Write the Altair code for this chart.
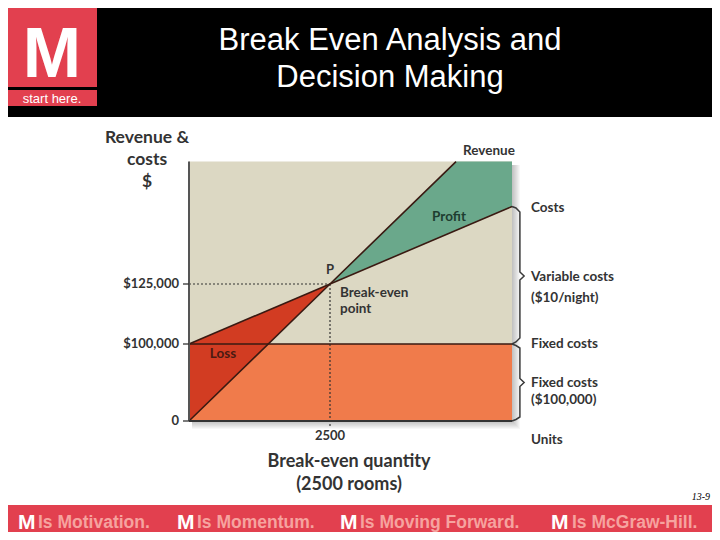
import altair as alt
import pandas as pd

# ---------------- data ----------------
q_breakeven = 2500          # rooms
be_value = 125000           # $ at break-even
fixed_costs = 100000        # $
q_edge = 5727               # right edge of the drawn quantity axis (rooms)
y_top = 176000              # top edge of the drawn $ axis

revenue_q = [0, 2500, 4734]
revenue_usd = [0, 125000, 176000]
costs_q = [0, 5727]
costs_usd = [100000, 157270]
fixed_q = [0, 5727]
fixed_usd = [100000, 100000]

loss_q = [0, 2500]
loss_hi = [100000, 125000]
loss_lo = [0, 125000]

profit_q = [2500, 4734, 5727]
profit_hi = [125000, 176000, 176000]
profit_lo = [125000, 147340, 157270]

ytick_values = [0, 100000, 125000]
ytick_labels = ["0", "$100,000", "$125,000"]
xtick_values = [2500]
xtick_labels = ["2500"]

brace1_q = [5727, 5797, 5867, 5867, 5942, 5867, 5867, 5797, 5727]
brace1_usd = [157270, 156667, 155000, 130000, 128333, 126667, 102500, 100833, 100000]
brace2_q = [5727, 5797, 5867, 5867, 5942, 5867, 5867, 5797, 5727]
brace2_usd = [100000, 98052, 94805, 55195, 50000, 44805, 5195, 1948, 0]

footer_items = ["Is Motivation.", "Is Momentum.", "Is Moving Forward.", "Is McGraw-Hill."]

# ---------------- styling ----------------
FONT = "Lato"
INK = "#333333"
LINE = "#3a1a12"
BEIGE = "#dcd8c3"
ORANGE = "#f07b4b"
RED = "#d23c22"
GREEN = "#6aa88b"
BRAND = "#e2404f"
PINK = "#f6a39f"

XS = alt.Scale(domain=[0, 2500], range=[181, 322], nice=False, zero=False)
YS = alt.Scale(domain=[0, 100000, 125000], range=[413, 336, 276], nice=False, zero=False)

one = pd.DataFrame({"k": [0]})


def box(x, x2, y, y2, color, opacity=1.0):
    return alt.Chart(one).mark_rect(color=color, opacity=opacity).encode(
        x=alt.value(x), x2=alt.value(x2), y=alt.value(y), y2=alt.value(y2))


def label(text, x, y, size=13, weight="normal", color=INK, align="center",
          font=FONT, baseline="middle", style="normal"):
    return alt.Chart(one).mark_text(
        text=text, fontSize=size, fontWeight=weight, color=color, align=align,
        baseline=baseline, font=font, fontStyle=style).encode(
        x=alt.value(x), y=alt.value(y))


layers = []

# header band, logo and title
layers.append(box(0, 704, 0, 109, "black"))
layers.append(box(0, 89, 0, 79, BRAND))
layers.append(box(0, 89, 82, 98, BRAND))
layers.append(label("M", 44, 69, size=70, weight="bold", color="white",
                    font="Liberation Sans", baseline="alphabetic"))
layers.append(label("start here.", 44, 91, size=13, color="white",
                    font="Liberation Sans"))
layers.append(label("Break Even Analysis and", 382, 33, size=31, color="white",
                    font="Liberation Sans"))
layers.append(label("Decision Making", 382, 70, size=31, color="white",
                    font="Liberation Sans"))

# soft drop shadow behind the plot panel
for k in range(1, 9):
    layers.append(box(181 + 3, 504 + k, 154 + 3, 413 + k, "black", 0.03))

# plot panel regions
panel = pd.DataFrame({"q0": [0], "q1": [q_edge], "y0": [0], "y1": [y_top], "f": [fixed_costs]})
layers.append(alt.Chart(panel).mark_rect(color=BEIGE).encode(
    x=alt.X("q0:Q", scale=XS, axis=None), x2="q1:Q",
    y=alt.Y("y0:Q", scale=YS, axis=None), y2="y1:Q"))
layers.append(alt.Chart(panel).mark_rect(color=ORANGE).encode(
    x=alt.X("q0:Q", scale=XS, axis=None), x2="q1:Q",
    y=alt.Y("y0:Q", scale=YS, axis=None), y2="f:Q"))

loss = pd.DataFrame({"q": loss_q, "hi": loss_hi, "lo": loss_lo})
layers.append(alt.Chart(loss).mark_area(color=RED).encode(
    x=alt.X("q:Q", scale=XS, axis=None),
    y=alt.Y("hi:Q", scale=YS, axis=None), y2="lo:Q"))

profit = pd.DataFrame({"q": profit_q, "hi": profit_hi, "lo": profit_lo})
layers.append(alt.Chart(profit).mark_area(color=GREEN).encode(
    x=alt.X("q:Q", scale=XS, axis=None),
    y=alt.Y("hi:Q", scale=YS, axis=None), y2="lo:Q"))

# dotted guides to the break-even point
guide = pd.DataFrame({"q0": [0], "q": [q_breakeven], "v": [be_value]})
layers.append(alt.Chart(guide).mark_rule(color="#333", strokeDash=[2, 2], strokeWidth=1.2).encode(
    x=alt.X("q0:Q", scale=XS, axis=None), x2="q:Q",
    y=alt.Y("v:Q", scale=YS, axis=None)))
layers.append(alt.Chart(guide).mark_rule(color="#333", strokeDash=[2, 2], strokeWidth=1.2).encode(
    x=alt.X("q:Q", scale=XS, axis=None),
    y=alt.Y("v:Q", scale=YS, axis=None), y2=alt.value(420)))

# revenue, costs and fixed-cost lines
lines = pd.concat([
    pd.DataFrame({"q": fixed_q, "usd": fixed_usd, "s": "fixed", "o": range(len(fixed_q))}),
    pd.DataFrame({"q": costs_q, "usd": costs_usd, "s": "costs", "o": range(len(costs_q))}),
    pd.DataFrame({"q": revenue_q, "usd": revenue_usd, "s": "revenue", "o": range(len(revenue_q))}),
])
layers.append(alt.Chart(lines).mark_line(color=LINE, strokeWidth=1.6).encode(
    x=alt.X("q:Q", scale=XS, axis=None),
    y=alt.Y("usd:Q", scale=YS, axis=None),
    detail="s:N", order="o:Q"))

# axes drawn by hand
base = pd.DataFrame({"q0": [0], "q1": [q_edge], "y0": [0], "y1": [y_top]})
layers.append(alt.Chart(base).mark_rule(color="#555", strokeWidth=2).encode(
    x=alt.X("q0:Q", scale=XS, axis=None),
    y=alt.Y("y0:Q", scale=YS, axis=None), y2="y1:Q"))
layers.append(alt.Chart(base).mark_rule(color="#333", strokeWidth=2).encode(
    x=alt.X("q0:Q", scale=XS, axis=None), x2="q1:Q",
    y=alt.Y("y0:Q", scale=YS, axis=None)))

yt = pd.DataFrame({"v": ytick_values, "lab": ytick_labels})
layers.append(alt.Chart(yt).mark_rule(color="#333", strokeWidth=1.3).encode(
    x=alt.value(175), x2=alt.value(181),
    y=alt.Y("v:Q", scale=YS, axis=None)))
layers.append(alt.Chart(yt).mark_text(align="right", baseline="middle", fontSize=13,
                                      fontWeight="bold", font=FONT, color=INK).encode(
    x=alt.value(171), y=alt.Y("v:Q", scale=YS, axis=None), text="lab:N"))

xt = pd.DataFrame({"v": xtick_values, "lab": xtick_labels})
layers.append(alt.Chart(xt).mark_text(align="center", baseline="middle", fontSize=13,
                                      fontWeight="bold", font=FONT, color=INK).encode(
    x=alt.X("v:Q", scale=XS, axis=None), y=alt.value(428), text="lab:N"))

# braces on the right
braces = pd.concat([
    pd.DataFrame({"q": brace1_q, "usd": brace1_usd, "b": "1", "o": range(9)}),
    pd.DataFrame({"q": brace2_q, "usd": brace2_usd, "b": "2", "o": range(9)}),
])
layers.append(alt.Chart(braces).mark_line(color="#3a3a3a", strokeWidth=1.5).encode(
    x=alt.X("q:Q", scale=XS, axis=None),
    y=alt.Y("usd:Q", scale=YS, axis=None),
    detail="b:N", order="o:Q"))

# annotations
layers += [
    label("Revenue &", 139, 130, size=17.5, weight="bold"),
    label("costs", 139, 152, size=17.5, weight="bold"),
    label("$", 139, 174, size=17.5, weight="bold"),
    label("Break-even quantity", 341, 454, size=18, weight="bold"),
    label("(2500 rooms)", 341, 477, size=18, weight="bold"),
    label("P", 322, 262, size=13, weight="bold"),
    label("Break-even", 332, 285, size=13.5, weight="bold", align="left"),
    label("point", 332, 301, size=13.5, weight="bold", align="left"),
    label("Loss", 215, 346, size=13.5, weight="bold", color="#4a1a12"),
    label("Profit", 441, 209, size=13.5, weight="bold", color="#1e3d30"),
    label("Revenue", 481, 143, size=13.5, weight="bold"),
    label("Costs", 523, 200, size=13.5, weight="bold", align="left"),
    label("Variable costs", 523, 269, size=13.5, weight="bold", align="left"),
    label("($10/night)", 523, 290, size=13.5, weight="bold", align="left"),
    label("Fixed costs", 523, 336, size=13.5, weight="bold", align="left"),
    label("Fixed costs", 523, 375, size=13.5, weight="bold", align="left"),
    label("($100,000)", 523, 392, size=13.5, weight="bold", align="left"),
    label("Units", 523, 432, size=13.5, weight="bold", align="left"),
]

# footer band
layers.append(box(0, 704, 497, 524, BRAND))
for mx, tx, txt in zip([10, 169, 332, 543], [30, 189, 352, 564], footer_items):
    layers.append(label("M", mx, 515, size=21, weight="bold", color="white",
                        font="Liberation Sans", align="left"))
    layers.append(label(txt, tx, 515, size=17.5, weight="bold", color=PINK,
                        font="Liberation Sans", align="left"))
layers.append(label("13-9", 702, 489, size=10, style="italic", color="black",
                    font="Liberation Serif", align="right"))

chart = alt.layer(*layers).properties(
    width=704, height=524, padding=0,
    autosize=alt.AutoSizeParams(type="none"),
    background="white",
).configure_view(stroke=None)

chart.save("out.html", embed_options={"renderer": "svg", "actions": False})
